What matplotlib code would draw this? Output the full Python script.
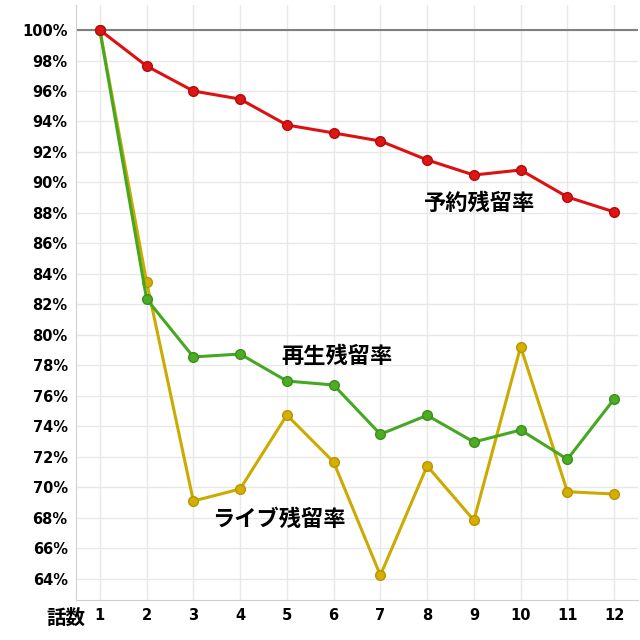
import matplotlib.pyplot as plt

plt.rcParams['font.family'] = ['DejaVu Sans', 'Noto Sans CJK JP']

episodes = list(range(1, 13))
yoyaku = [100, 97.64, 96.0, 95.47, 93.77, 93.25, 92.72, 91.48, 90.49, 90.82, 89.05, 88.07]
saisei = [100, 82.36, 78.56, 78.75, 76.98, 76.72, 73.49, 74.73, 72.98, 73.77, 71.85, 75.8]
live = [100, 83.48, 69.11, 69.90, 74.75, 71.67, 64.24, 71.41, 67.85, 79.23, 69.72, 69.57]
yticks = list(range(64, 101, 2))

fig = plt.figure(figsize=(6.4, 6.4), dpi=100)
ax = fig.add_axes([76/640, 40/640, 562/640, 595/640])

ax.set_xlim(0.49, 12.51)
ax.set_ylim(62.62, 101.64)
ax.grid(True, color='#e8e8e8', linewidth=1)
ax.set_axisbelow(True)
ax.axhline(100, color='#808080', linewidth=1.5, zorder=1)

# 線（黄→緑→赤の順で重ねる）
ax.plot(episodes, live, color='#ccaa00', linewidth=2.2, marker='o', markersize=7,
        markerfacecolor='#d4ae00', markeredgecolor='#b89400', zorder=3)
ax.plot(episodes, saisei, color='#46a822', linewidth=2.2, marker='o', markersize=7,
        markerfacecolor='#4cad25', markeredgecolor='#3a901a', zorder=4)
ax.plot(episodes, yoyaku, color='#dd1111', linewidth=2.2, marker='o', markersize=7,
        markerfacecolor='#dd1515', markeredgecolor='#b00d0d', zorder=5)

jp = ['Noto Sans CJK JP', 'DejaVu Sans']
# ラベル位置はピクセル（上端基準）で指定
for label, px, py in [('予約残留率', 480, 203), ('再生残留率', 337, 356), ('ライブ残留率', 279, 519)]:
    fig.text(px/640, 1 - py/640, label, fontsize=16, fontweight='bold',
             family=jp, ha='center', va='center')

ax.set_xticks(episodes)
ax.set_xticklabels([str(e) for e in episodes], fontsize=10.5, fontweight='bold')
ax.set_yticks(yticks)
ax.set_yticklabels([f'{v}%' for v in yticks], fontsize=10.5, fontweight='bold')
ax.tick_params(length=0, pad=6)

for s in ['top', 'right']:
    ax.spines[s].set_visible(False)
for s in ['left', 'bottom']:
    ax.spines[s].set_color('#d0d0d0')

fig.text(66/640, 1 - 618/640, '話数', fontsize=14, fontweight='bold',
         family=jp, ha='center', va='center')

fig.savefig('out.png', dpi=100, facecolor='white')
